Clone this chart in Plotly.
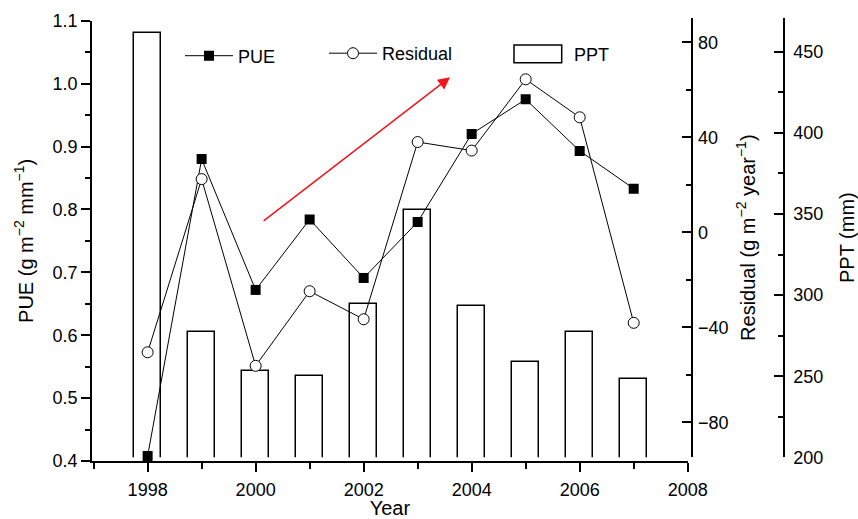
import plotly.graph_objects as go

# ---- data ----
years = [1998, 1999, 2000, 2001, 2002, 2003, 2004, 2005, 2006, 2007]
pue = [0.408, 0.880, 0.672, 0.784, 0.691, 0.780, 0.920, 0.975, 0.893, 0.833]
residual = [-50.5, 22.4, -56.2, -24.8, -36.6, 38.0, 34.4, 64.4, 48.4, -38.1]
ppt = [461.3, 277.0, 253.1, 250.0, 294.2, 352.2, 293.1, 258.9, 277.0, 248.3]

# trend arrow (x in years, y in PUE units)
arrow_tail = (2000.12, 0.780)
arrow_head = (2003.6, 1.010)

FONT = "Liberation Sans, Arial, Helvetica, sans-serif"
W, H = 858, 519
ML, MR, MT, MB = 92, 74, 18, 58
PW = W - ML - MR
PH = H - MT - MB


def px_x(px):
    return (px - ML) / PW


def px_y(py):
    return (H - MB - py) / PH


fig = go.Figure()

# PPT bars (bottom layer, subplot xy)
fig.add_trace(go.Bar(
    x=years, y=ppt, yaxis="y", xaxis="x", name="PPT", width=0.51,
    marker=dict(color="white", line=dict(color="black", width=1.5)),
    showlegend=False,
))

# PUE line
fig.add_trace(go.Scatter(
    x=years, y=pue, yaxis="y2", xaxis="x", name="PUE", mode="lines+markers",
    line=dict(color="black", width=1),
    marker=dict(symbol="square", size=10, color="black"),
    legend="legend",
))

# Residual line
fig.add_trace(go.Scatter(
    x=years, y=residual, yaxis="y3", xaxis="x", name="Residual", mode="lines+markers",
    line=dict(color="black", width=1),
    marker=dict(symbol="circle", size=11, color="white", line=dict(color="black", width=1)),
    legend="legend2",
))

tickfont = dict(family=FONT, size=18, color="black")
titlefont = dict(family=FONT, size=20, color="black")

right_dom = [px_y(457.3), 1.0]

fig.update_layout(
    width=W, height=H,
    margin=dict(l=ML, r=MR, t=MT, b=MB, autoexpand=False),
    paper_bgcolor="white", plot_bgcolor="rgba(0,0,0,0)",
    font=dict(family=FONT, size=18, color="black"),
    bargap=0,
    xaxis=dict(
        domain=[0, px_x(687.7)], range=[1996.97, 2008.0], anchor="y2", automargin=False,
        showgrid=False, zeroline=False, showline=True, linecolor="black", linewidth=1.5,
        ticks="outside", ticklen=9, tickwidth=1.5, tickcolor="black",
        tick0=1998, dtick=2, tickfont=tickfont, ticklabelstandoff=3,
        minor=dict(dtick=1, tick0=1997, ticks="outside", ticklen=6, tickwidth=1.5, tickcolor="black"),
        title=dict(text="Year", font=titlefont, standoff=2),
    ),
    yaxis2=dict(
        domain=[0, px_y(20.7)], range=[0.4, 1.1], anchor="x", side="left", automargin=False,
        showgrid=False, zeroline=False, showline=True, linecolor="black", linewidth=1.5,
        ticks="outside", ticklen=9, tickwidth=1.5, tickcolor="black",
        tick0=0.4, dtick=0.1, tickformat=".1f", tickfont=tickfont,
        minor=dict(dtick=0.05, ticks="outside", ticklen=5, tickwidth=1.5, tickcolor="black"),
        title=dict(text="PUE (g m<sup>−2</sup> mm<sup>−1</sup>)", font=titlefont, standoff=14),
    ),
    yaxis3=dict(
        domain=right_dom, range=[-94.7, 90.2], anchor="free", position=px_x(691.7), side="right",
        automargin=False,
        showgrid=False, zeroline=False, showline=True, linecolor="black", linewidth=1.5,
        ticks="inside", ticklen=9, tickwidth=1.5, tickcolor="black",
        tick0=0, dtick=40, tickfont=tickfont, ticklabelstandoff=2,
        minor=dict(dtick=20, ticks="inside", ticklen=5, tickwidth=1.5, tickcolor="black"),
        title=dict(text="Residual (g m<sup>−2</sup> year<sup>−1</sup>)", font=titlefont, standoff=12),
    ),
    yaxis=dict(
        domain=right_dom, range=[200, 470.8], anchor="free", position=1.0, side="right",
        automargin=False,
        showgrid=False, zeroline=False, showline=True, linecolor="black", linewidth=1.5,
        ticks="inside", ticklen=9, tickwidth=1.5, tickcolor="black",
        tick0=200, dtick=50, tickfont=tickfont, ticklabelstandoff=5,
        minor=dict(dtick=25, ticks="inside", ticklen=5, tickwidth=1.5, tickcolor="black"),
        title=dict(text="PPT (mm)", font=titlefont, standoff=18),
    ),
    legend=dict(
        x=px_x(180), y=px_y(56), xanchor="left", yanchor="middle",
        orientation="h", itemwidth=48, bgcolor="rgba(0,0,0,0)",
        font=dict(family=FONT, size=18, color="black"),
    ),
    legend2=dict(
        x=px_x(324), y=px_y(53.5), xanchor="left", yanchor="middle",
        orientation="h", itemwidth=48, bgcolor="rgba(0,0,0,0)",
        font=dict(family=FONT, size=18, color="black"),
    ),
    showlegend=True,
)

# PPT legend key (drawn as a shape + text, like the reference's wide box)
fig.add_shape(type="rect", xref="paper", yref="paper",
              x0=px_x(514), x1=px_x(561.7), y0=px_y(62.7), y1=px_y(45),
              line=dict(color="black", width=1.5), fillcolor="white")
fig.add_annotation(xref="paper", yref="paper", x=px_x(572), y=px_y(55),
                   xanchor="left", yanchor="middle", text="PPT", showarrow=False,
                   font=dict(family=FONT, size=18, color="black"))

# red trend arrow
fig.add_annotation(
    x=arrow_head[0], y=arrow_head[1], xref="x", yref="y2",
    ax=arrow_tail[0], ay=arrow_tail[1], axref="x", ayref="y2",
    text="", showarrow=True, arrowhead=2, arrowsize=1.6, arrowwidth=1.5,
    arrowcolor="#f0161c", standoff=0,
)

fig.write_html("out.html")
